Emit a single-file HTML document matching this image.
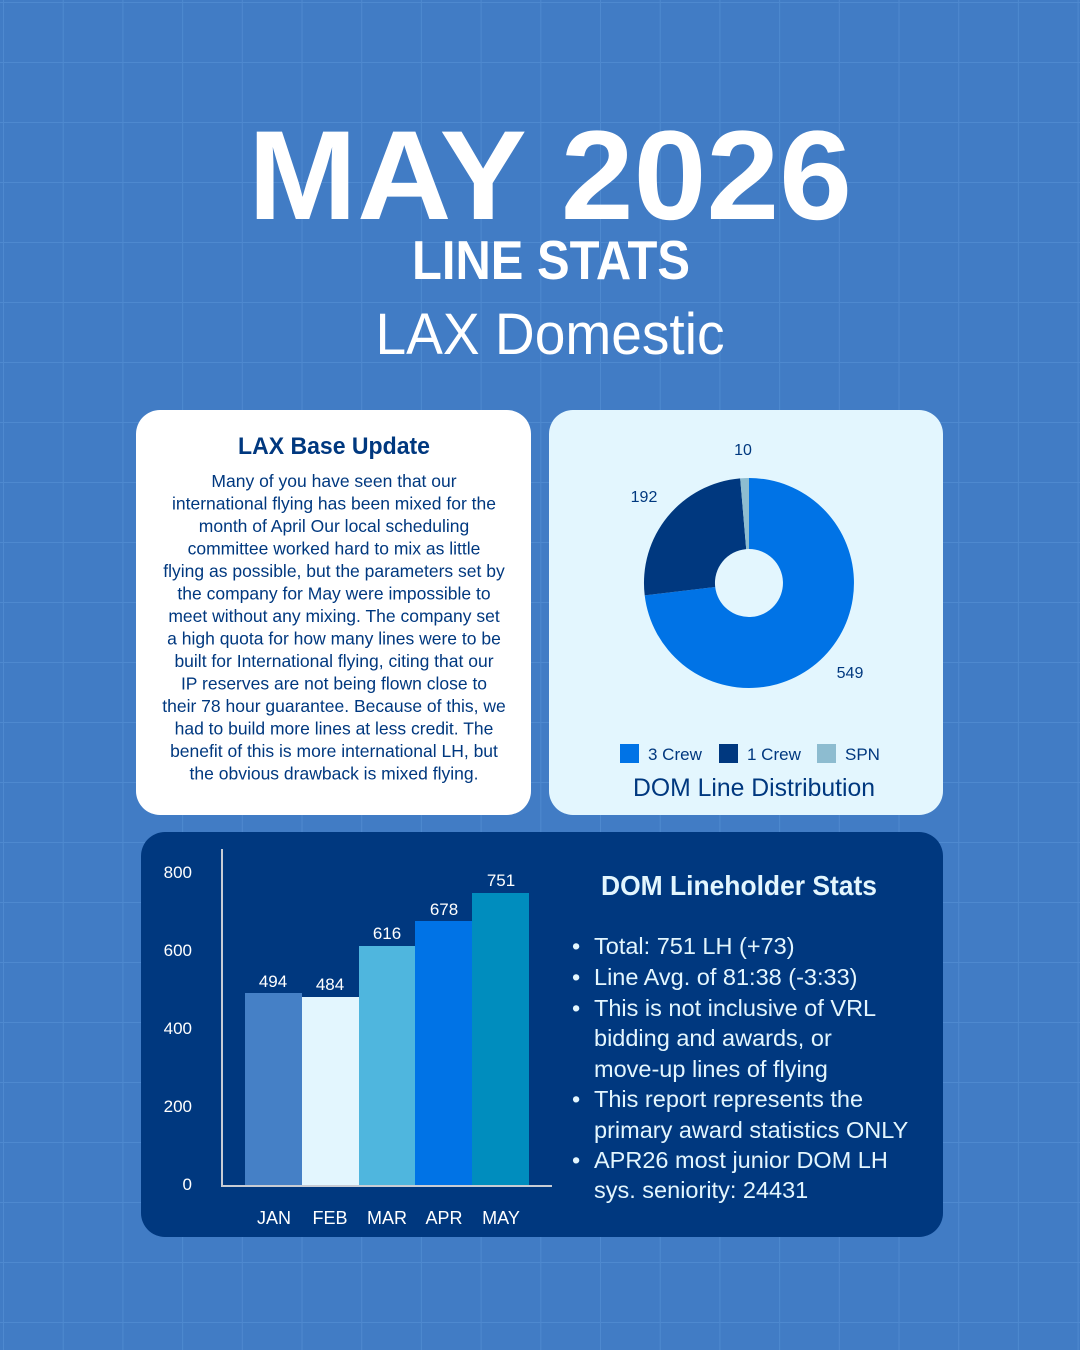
<!DOCTYPE html>
<html><head><meta charset="utf-8"><style>
html,body{margin:0;padding:0;background:#417CC5;}
svg{display:block;font-family:"Liberation Sans",sans-serif;}
</style></head><body>
<svg width="1080" height="1350" viewBox="0 0 1080 1350" xmlns="http://www.w3.org/2000/svg">
<defs>
<pattern id="g" x="3" y="2" width="59.7" height="60" patternUnits="userSpaceOnUse">
<path d="M0 0V60M0 0H59.7" stroke="#4E89CF" stroke-width="2" fill="none"/>
</pattern>
</defs>
<rect width="1080" height="1350" fill="#417CC5"/>
<rect width="1080" height="1350" fill="url(#g)"/>

<text x="550" y="219" text-anchor="middle" font-size="127" font-weight="bold" fill="#fff" textLength="604" lengthAdjust="spacingAndGlyphs">MAY 2026</text>
<text x="551" y="279" text-anchor="middle" font-size="55" font-weight="bold" fill="#fff" textLength="278" lengthAdjust="spacingAndGlyphs">LINE STATS</text>
<text x="550" y="354" text-anchor="middle" font-size="58" fill="#fff" textLength="349" lengthAdjust="spacingAndGlyphs">LAX Domestic</text>

<rect x="136" y="410" width="395" height="405" rx="24" fill="#fff"/>
<text x="334" y="454" text-anchor="middle" font-size="24" font-weight="bold" fill="#00387F" textLength="192" lengthAdjust="spacingAndGlyphs">LAX Base Update</text>
<g font-size="17.5" fill="#00387F" text-anchor="middle">
<text x="334" y="487">Many of you have seen that our</text>
<text x="334" y="509.5">international flying has been mixed for the</text>
<text x="334" y="532">month of April  Our local scheduling</text>
<text x="334" y="554.5">committee worked hard to mix as little</text>
<text x="334" y="577">flying as possible, but the parameters set by</text>
<text x="334" y="599.5">the company for May were impossible to</text>
<text x="334" y="622">meet without any mixing. The company set</text>
<text x="334" y="644.5">a high quota for how many lines were to be</text>
<text x="334" y="667">built for International flying, citing that our</text>
<text x="334" y="689.5">IP reserves are not being flown close to</text>
<text x="334" y="712">their 78 hour guarantee. Because of this, we</text>
<text x="334" y="734.5">had to build more lines at less credit. The</text>
<text x="334" y="757">benefit of this is more international LH, but</text>
<text x="334" y="779.5">the obvious drawback is mixed flying.</text>
</g>

<rect x="549" y="410" width="394" height="405" rx="24" fill="#E3F6FE"/>
<path d="M749,478 A105,105 0 1 1 644.7,595.4 L715.2,587 A34,34 0 1 0 749,549 Z" fill="#0073E6"/>
<path d="M644.7,595.4 A105,105 0 0 1 740.2,478.4 L746.2,549.1 A34,34 0 0 0 715.2,587 Z" fill="#00387F"/>
<path d="M740.2,478.4 A105,105 0 0 1 749,478 L749,549 A34,34 0 0 0 746.2,549.1 Z" fill="#8DBCD0"/>
<g font-size="16" fill="#00387F">
<text x="743" y="455" text-anchor="middle">10</text>
<text x="644" y="502" text-anchor="middle">192</text>
<text x="850" y="678" text-anchor="middle">549</text>
</g>
<rect x="620" y="744" width="19" height="19" fill="#0073E6"/>
<text x="648" y="760" font-size="17" fill="#00387F">3 Crew</text>
<rect x="719" y="744" width="19" height="19" fill="#00387F"/>
<text x="747" y="760" font-size="17" fill="#00387F">1 Crew</text>
<rect x="817" y="744" width="19" height="19" fill="#8DBCD0"/>
<text x="845" y="760" font-size="17" fill="#00387F">SPN</text>
<text x="754" y="796" text-anchor="middle" font-size="25" fill="#00387F" textLength="242" lengthAdjust="spacingAndGlyphs">DOM Line Distribution</text>

<rect x="141" y="832" width="802" height="405" rx="24" fill="#00387F"/>
<g font-size="17" fill="#fff" text-anchor="end">
<text x="192" y="878">800</text>
<text x="192" y="956">600</text>
<text x="192" y="1034">400</text>
<text x="192" y="1112">200</text>
<text x="192" y="1190">0</text>
</g>
<rect x="245" y="993" width="57" height="192" fill="#4580C6"/>
<rect x="302" y="997" width="57" height="188" fill="#E3F6FE"/>
<rect x="359" y="946" width="56" height="239" fill="#4FB6DE"/>
<rect x="415" y="921" width="57" height="264" fill="#0073E6"/>
<rect x="472" y="893" width="57" height="292" fill="#008DBE"/>
<path d="M222,849 V1186 H552" stroke="#C8CCD4" stroke-width="2" fill="none"/>
<g font-size="17" fill="#fff" text-anchor="middle">
<text x="273" y="987">494</text>
<text x="330" y="990">484</text>
<text x="387" y="939">616</text>
<text x="444" y="915">678</text>
<text x="501" y="886">751</text>
</g>
<g font-size="18" fill="#fff" text-anchor="middle">
<text x="274" y="1224">JAN</text>
<text x="330" y="1224">FEB</text>
<text x="387" y="1224">MAR</text>
<text x="444" y="1224">APR</text>
<text x="501" y="1224">MAY</text>
</g>
<text x="739" y="895" text-anchor="middle" font-size="28" font-weight="bold" fill="#E3F6FE" textLength="276" lengthAdjust="spacingAndGlyphs">DOM Lineholder Stats</text>
<g font-size="23.5" fill="#E3F6FE">
<text x="572" y="954">•</text><text x="594" y="954">Total: 751 LH (+73)</text>
<text x="572" y="985">•</text><text x="594" y="985">Line Avg. of 81:38 (-3:33)</text>
<text x="572" y="1016">•</text><text x="594" y="1016">This is not inclusive of VRL</text>
<text x="594" y="1046">bidding and awards, or</text>
<text x="594" y="1077">move-up lines of flying</text>
<text x="572" y="1107">•</text><text x="594" y="1107">This report represents the</text>
<text x="594" y="1138">primary award statistics ONLY</text>
<text x="572" y="1168">•</text><text x="594" y="1168">APR26 most junior DOM LH</text>
<text x="594" y="1198">sys. seniority: 24431</text>
</g>
</svg>
</body></html>
